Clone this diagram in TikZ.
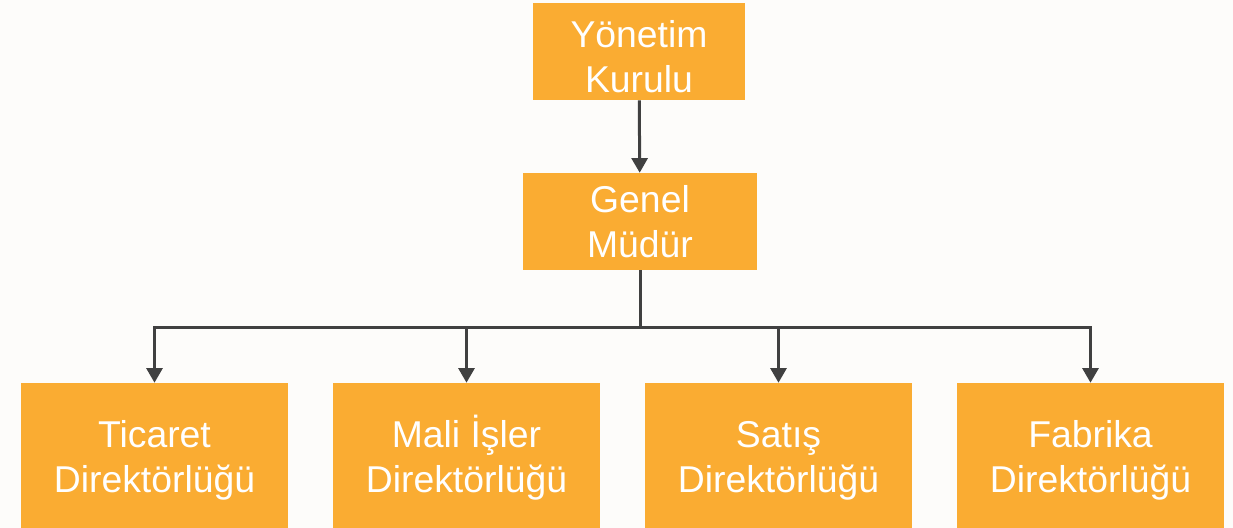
\documentclass[tikz,border=0pt]{standalone}
\usepackage{fontspec}
\setmainfont{Liberation Sans}
\usetikzlibrary{arrows.meta}
\definecolor{boxorange}{RGB}{250,172,50}
\definecolor{linegray}{RGB}{64,64,64}
\definecolor{paper}{RGB}{253,252,250}
\newcommand{\firstline}{\rule{0pt}{28pt}}
\begin{document}
\begin{tikzpicture}[
  x=0.75pt, y=0.75pt,
  box/.style={fill=boxorange, text=white, inner sep=0pt, align=center,
    font=\fontsize{28}{33.75}\selectfont},
  top box/.style={box, minimum height=72.75pt},
  unit box/.style={box, minimum width=200.25pt, minimum height=108.75pt},
  link/.style={draw=linegray, line width=2.25pt},
  conn/.style={link, -{Triangle[width=12pt,length=11pt]}}
]
  % page
  \useasboundingbox (0,0) rectangle (1233,528);
  \fill[paper] (0,0) rectangle (1233,528);

  % top of the chart
  \node[top box, minimum width=159pt] (yk) at (639,476.5) {\firstline Yönetim\\Kurulu};
  \node[top box, minimum width=175.5pt] (gm) at (640,306.5) {Genel\\Müdür};

  % directorates
  \node[unit box] (tc) at (154.5,72.5) {\firstline Ticaret\\Direktörlüğü};
  \node[unit box] (mi) at (466.5,72.5) {\firstline Mali İşler\\Direktörlüğü};
  \node[unit box] (st) at (778.5,72.5) {\firstline Satış\\Direktörlüğü};
  \node[unit box] (fb) at (1090.5,72.5) {\firstline Fabrika\\Direktörlüğü};

  % connectors
  \coordinate (bus) at (640,200);
  \draw[conn] (yk) -- (gm);
  \draw[link] (gm.south) -- (bus);
  \foreach \n in {tc,mi,st,fb}
    \draw[conn] (bus) -| (\n.north);

\end{tikzpicture}
\end{document}
